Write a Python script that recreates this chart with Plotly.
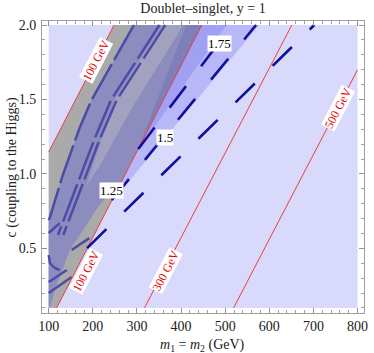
import plotly.graph_objects as go

# ---------------- data ----------------
x_tick_vals = [100, 200, 300, 400, 500, 600, 700, 800]
x_tick_text = ["100", "200", "300", "400", "500", "600", "700", "800"]
y_tick_vals = [0.5, 1.0, 1.5, 2.0]
y_tick_text = ["0.5", "1.0", "1.5", "2.0"]

# scanned parameter region
region_m = [100, 800, 800, 100]
region_c = [0.1, 0.1, 2.0, 2.0]

# red iso-mass lines (lightest state mass)
mass_labels = ["100 GeV", "100 GeV", "300 GeV", "500 GeV"]
mass100_upper_m = [100, 248]
mass100_upper_c = [1.147, 2.0]
mass100_lower_m = [118, 447]
mass100_lower_c = [0.1, 2.0]
mass300_m = [317, 651]
mass300_c = [0.1, 2.0]
mass500_m = [519, 800]
mass500_c = [0.1, 1.70]
mass_label_m = [208, 185, 365, 756]
mass_label_c = [1.765, 0.348, 0.348, 1.443]

# ratio contours (dashed)
ratio_labels = ["1.25", "1.5", "1.75"]
ratio125_m = [187, 702]
ratio125_c = [0.502, 2.0]
ratio150_m = [243, 570]
ratio150_c = [0.825, 2.0]
ratio175_m = [303, 516]
ratio175_c = [1.167, 2.0]
ratio_label_m = [242, 364, 488]
ratio_label_c = [0.892, 1.248, 1.879]

# shaded ratio regions
wedge150_m = [239, 447, 577]
wedge150_c = [0.80, 2.0, 2.0]
wedge175_m = [300, 447, 503]
wedge175_c = [1.15, 2.0, 2.0]

# excluded (gray) band between the two 100 GeV lines
gray_m = [100, 118, 447, 248, 100]
gray_c = [0.1, 0.1, 2.0, 2.0, 1.147]

# bluish structure inside the excluded band
blue_m = [293, 447, 266, 215, 148, 114, 103, 100, 100, 132, 170, 197]
blue_c = [2.0, 2.0, 0.959, 0.791, 0.489, 0.22, 0.106, 0.106, 0.69, 0.993, 1.308, 1.496]
light_m = [358, 405, 290, 215, 185, 250]
light_c = [2.0, 2.0, 1.45, 1.05, 0.92, 1.50]
deep_m = [412, 447, 300]
deep_c = [2.0, 2.0, 1.15]

inner1_m = [293, 197, 170, 132, 103, 100]
inner1_c = [2.0, 1.496, 1.308, 0.993, 0.711, 0.69]
inner2_m = [351, 241, 203, 159, 121]
inner2_c = [2.0, 1.496, 1.228, 0.892, 0.59]
inner3_m = [364, 254, 215, 171, 133]
inner3_c = [2.0, 1.496, 1.228, 0.892, 0.59]
seg_a_m = [100, 125]
seg_a_c = [0.603, 0.670]
seg_b_m = [100, 103, 114, 125]
seg_b_c = [0.455, 0.40, 0.368, 0.355]
seg_c_m = [100, 141]
seg_c_c = [0.274, 0.355]
seg_d_m = [100, 152]
seg_d_c = [0.20, 0.308]
seg_e_m = [152, 192]
seg_e_c = [0.489, 0.569]

# ---------------- figure ----------------
SERIF = "Liberation Serif, Times New Roman, serif"
fig = go.Figure()


def poly(m, c, color):
    fig.add_trace(go.Scatter(x=m, y=c, mode="lines", fill="toself", fillcolor=color,
                             line=dict(width=0), hoverinfo="skip", showlegend=False))


def line(m, c, color, width, dash="solid"):
    fig.add_trace(go.Scatter(x=m, y=c, mode="lines",
                             line=dict(color=color, width=width, dash=dash),
                             hoverinfo="skip", showlegend=False))


poly(region_m, region_c, "rgb(217,217,252)")
poly(wedge150_m, wedge150_c, "rgb(184,184,249)")
poly(wedge175_m, wedge175_c, "rgb(160,160,245)")
poly(gray_m, gray_c, "rgb(170,170,170)")
poly(blue_m, blue_c, "rgb(140,140,190)")
poly(light_m, light_c, "rgb(162,162,192)")
poly(deep_m, deep_c, "rgb(126,126,184)")

inner_col = "rgb(76,76,166)"
for m, c in [(inner1_m, inner1_c), (inner2_m, inner2_c), (inner3_m, inner3_c)]:
    line(m, c, inner_col, 2.5, "40px,5px")
for m, c in [(seg_a_m, seg_a_c), (seg_b_m, seg_b_c), (seg_c_m, seg_c_c),
             (seg_d_m, seg_d_c), (seg_e_m, seg_e_c)]:
    line(m, c, inner_col, 2.5)

red = "rgb(240,60,60)"
for m, c in [(mass100_upper_m, mass100_upper_c), (mass100_lower_m, mass100_lower_c),
             (mass300_m, mass300_c), (mass500_m, mass500_c)]:
    line(m, c, red, 1)

navy = "rgb(16,16,156)"
for m, c in [(ratio125_m, ratio125_c), (ratio150_m, ratio150_c), (ratio175_m, ratio175_c)]:
    line(m, c, navy, 2.6, "27px,25px")

annotations = []
for t, m, c in zip(mass_labels, mass_label_m, mass_label_c):
    annotations.append(dict(x=m, y=c, xref="x", yref="y", text=t, showarrow=False,
                            textangle=-62.5, bgcolor="white", borderpad=0,
                            font=dict(family=SERIF, size=12, color="rgb(225,0,0)")))
for t, m, c in zip(ratio_labels, ratio_label_m, ratio_label_c):
    annotations.append(dict(x=m, y=c, xref="x", yref="y", text=t, showarrow=False,
                            bgcolor="white", borderpad=0,
                            font=dict(family=SERIF, size=13, color="black")))
annotations.append(dict(x=0.497, y=-0.11, xref="paper", yref="paper",
                        text="<i>m</i><sub>1</sub> = <i>m</i><sub>2</sub> (GeV)",
                        showarrow=False, xanchor="center", yanchor="middle",
                        font=dict(family=SERIF, size=14, color="#222")))
annotations.append(dict(x=-0.092, y=0.5, xref="paper", yref="paper",
                        text="c (coupling to the Higgs)", textangle=-90,
                        xanchor="center", yanchor="middle",
                        showarrow=False, font=dict(family=SERIF, size=14, color="#222")))

axis_common = dict(showgrid=False, zeroline=False, showline=True, linecolor="#a0a0a0",
                   linewidth=1, mirror="allticks", ticks="inside", ticklen=5,
                   tickcolor="#909090", tickfont=dict(family=SERIF, size=14, color="#222"))

fig.update_layout(
    width=374, height=353,
    margin=dict(l=42, r=6, t=21, b=40),
    paper_bgcolor="white", plot_bgcolor="white",
    title=dict(text="Doublet–singlet, y = 1", x=0.5, xref="paper", xanchor="center",
               y=1 - 8 / 353, yref="container", yanchor="middle",
               font=dict(family=SERIF, size=14, color="#222")),
    xaxis=dict(range=[84.8, 814.6], tickmode="array", tickvals=x_tick_vals, ticktext=x_tick_text,
               minor=dict(ticks="inside", ticklen=3, tickcolor="#a0a0a0", tickmode="linear",
                          tick0=0, dtick=20, showgrid=False),
               **axis_common),
    yaxis=dict(range=[0.066, 2.027], tickmode="array", tickvals=y_tick_vals, ticktext=y_tick_text,
               ticklabelstandoff=2,
               minor=dict(ticks="inside", ticklen=3, tickcolor="#a0a0a0", tickmode="linear",
                          tick0=0, dtick=0.1, showgrid=False),
               **axis_common),
    annotations=annotations,
    showlegend=False,
)

fig.write_html("out.html", config={"displayModeBar": False},
               post_script="document.body.style.margin='0';document.body.style.padding='0';")
